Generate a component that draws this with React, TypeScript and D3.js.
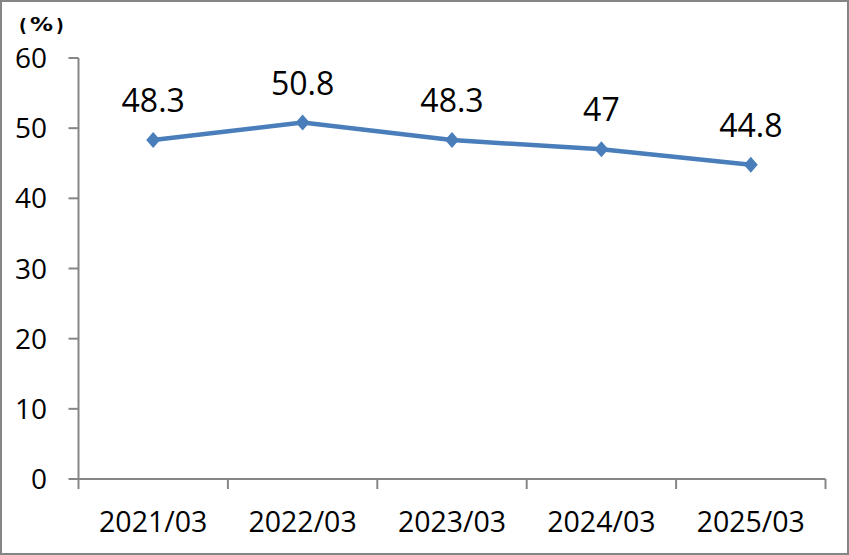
import React from "react";
import * as d3 from "d3";

const categories = ["2021/03", "2022/03", "2023/03", "2024/03", "2025/03"];
const values = [48.3, 50.8, 48.3, 47, 44.8];
const labels = ["48.3", "50.8", "48.3", "47", "44.8"];
const yTicks = [0, 10, 20, 30, 40, 50, 60];

const W = 849, H = 555;
const left = 78.5, right = 825.5, top = 58, bottom = 479;
const axisColor = "#868686";
const lineColor = "#4a7ebb";
const font = "'Open Sans', 'Noto Sans', sans-serif";

export default function App() {
  const x = d3.scaleBand().domain(categories).range([left, right]);
  const y = d3.scaleLinear().domain([0, 60]).range([bottom, top]);
  const line = d3
    .line<number>()
    .x((_, i) => x(categories[i])! + x.bandwidth() / 2)
    .y((d) => y(d));
  const bounds = categories.map((c) => x(c)!).concat([right]);
  return (
    <svg width={W} height={H} style={{ position: "absolute", left: 0, top: 0 }}>
      <rect x={1} y={1} width={W - 2} height={H - 2} fill="#fff" stroke={axisColor} strokeWidth={2} />
      <g fontFamily="'DejaVu Sans', sans-serif" fill="#000" fontWeight="bold">
        <text x={19} y={32} fontSize={17}>(</text>
        <text x={30} y={31} fontSize={19} textLength={23} lengthAdjust="spacingAndGlyphs">%</text>
        <text x={56} y={32} fontSize={17}>)</text>
      </g>
      <line x1={left} x2={left} y1={top} y2={bottom} stroke={axisColor} strokeWidth={2} />
      {yTicks.map((t) => (
        <g key={t}>
          <line x1={left - 10} x2={left} y1={y(t)} y2={y(t)} stroke={axisColor} strokeWidth={2} />
          <text x={47} y={y(t)} dy="0.36em" textAnchor="end" fontFamily={font} fontSize={28} fill="#000">{t}</text>
        </g>
      ))}
      <line x1={left} x2={right} y1={bottom} y2={bottom} stroke={axisColor} strokeWidth={2} />
      {bounds.map((b, i) => (
        <line key={i} x1={b} x2={b} y1={bottom} y2={bottom + 10} stroke={axisColor} strokeWidth={2} />
      ))}
      {categories.map((c) => (
        <text key={c} x={x(c)! + x.bandwidth() / 2} y={532} textAnchor="middle" fontFamily={font} fontSize={28.5} fill="#000">{c}</text>
      ))}
      <path d={line(values)!} fill="none" stroke={lineColor} strokeWidth={4.5} strokeLinejoin="round" />
      {values.map((v, i) => {
        const cx = x(categories[i])! + x.bandwidth() / 2;
        const cy = y(v);
        return (
          <g key={i}>
            <path d={`M${cx},${cy - 8}L${cx + 7},${cy}L${cx},${cy + 8}L${cx - 7},${cy}Z`} fill={lineColor} />
            <text x={cx} y={cy - 28} textAnchor="middle" fontFamily={font} fontSize={32} fill="#000">{labels[i]}</text>
          </g>
        );
      })}
    </svg>
  );
}
